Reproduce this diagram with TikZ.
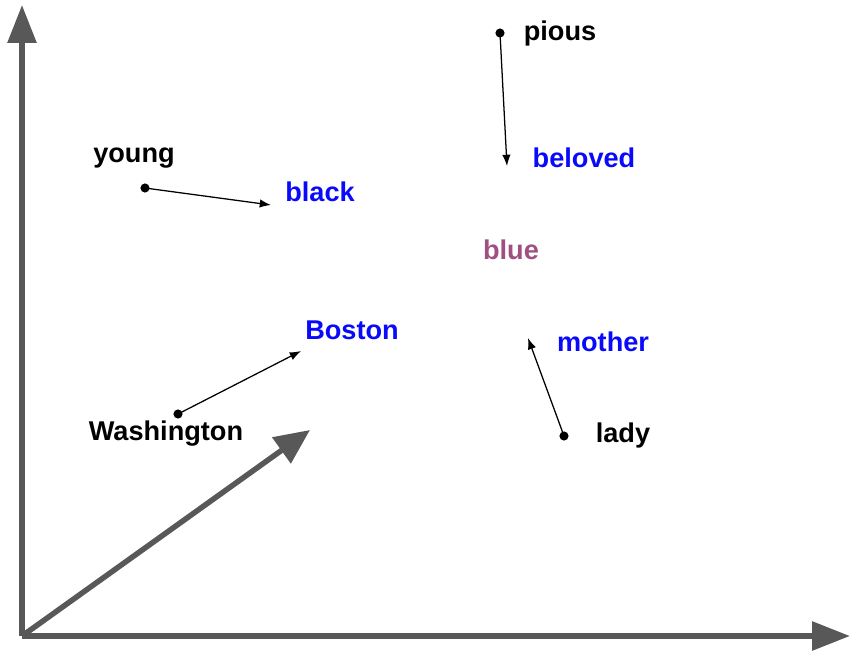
\documentclass[tikz,border=0pt]{standalone}
\usepackage{fontspec}
\setmainfont{Liberation Sans}
\usepackage{xcolor}
\usepackage{tikz}
\usetikzlibrary{arrows.meta}
\definecolor{axisgray}{RGB}{88,88,88}
\definecolor{wordblue}{RGB}{10,10,250}
\definecolor{wordmauve}{RGB}{160,80,128}
\tikzset{
	% The words we start from
	word_source/.style={
		text=black,font=\fontsize{19.3}{22}\selectfont\bfseries,inner sep=1pt
	},
	% The words we end up at
	word_target/.style={
		text=wordblue,font=\fontsize{19.3}{22}\selectfont\bfseries,inner sep=1pt
	},
	% The word in the middle
	word_middle/.style={
		text=wordmauve,font=\fontsize{19.3}{22}\selectfont\bfseries,inner sep=1pt
	},
	% Start point of a shift
	shift_dot/.style={
		circle,fill=black,inner sep=0pt,minimum size=6.5pt
	},
	% The shift itself
	shift_arrow/.style={
		draw=black,line width=0.9pt,-{Latex[length=8pt,width=6pt]},shorten <=-1pt
	},
	% Axes and the big vector
	axis/.style={
		draw=axisgray,line width=3.9pt,-{Triangle[length=27pt,width=20pt]}
	},
}

\begin{document}
\begin{tikzpicture}[x=0.025cm,y=-0.025cm]
		\useasboundingbox (0,0) rectangle (850,653);

		% Axes
		\coordinate (Origin) at (22,636);
		\coordinate (Y end) at (22,5);
		\coordinate (X end) at (850,636);
		\coordinate (Vector end) at (310,430);
		\draw [axis] (Origin) -- (Y end);
		\draw [axis] (Origin) -- (X end);
		\draw [axis,-{Triangle[length=25pt,width=22pt]}] (Origin) -- (Vector end);

		% Words
		\node [word_source] (young) at (134,158) {young};
		\node [word_target] (black) at (320,192) {black};
		\node [word_source] (pious) at (560,33) {pious};
		\node [word_target] (beloved) at (584,158) {beloved};
		\node [word_middle] (blue) at (511,250) {blue};
		\node [word_target] (Boston) at (352,330) {Boston};
		\node [word_target] (mother) at (603,342) {mother};
		\node [word_source] (Washington) at (166,434) {Washington};
		\node [word_source] (lady) at (623,435) {lady};

		% Shifts
		\node [shift_dot] (young dot) at (145,188) {};
		\coordinate (young end) at (271,205);
		\node [shift_dot] (pious dot) at (500,33) {};
		\coordinate (pious end) at (507,166);
		\node [shift_dot] (Washington dot) at (178,414) {};
		\coordinate (Washington end) at (301,351);
		\node [shift_dot] (lady dot) at (564,436) {};
		\coordinate (lady end) at (528,338);

		\draw [shift_arrow] (young dot) -- (young end);
		\draw [shift_arrow] (pious dot) -- (pious end);
		\draw [shift_arrow] (Washington dot) -- (Washington end);
		\draw [shift_arrow] (lady dot) -- (lady end);
	\end{tikzpicture}
\end{document}
